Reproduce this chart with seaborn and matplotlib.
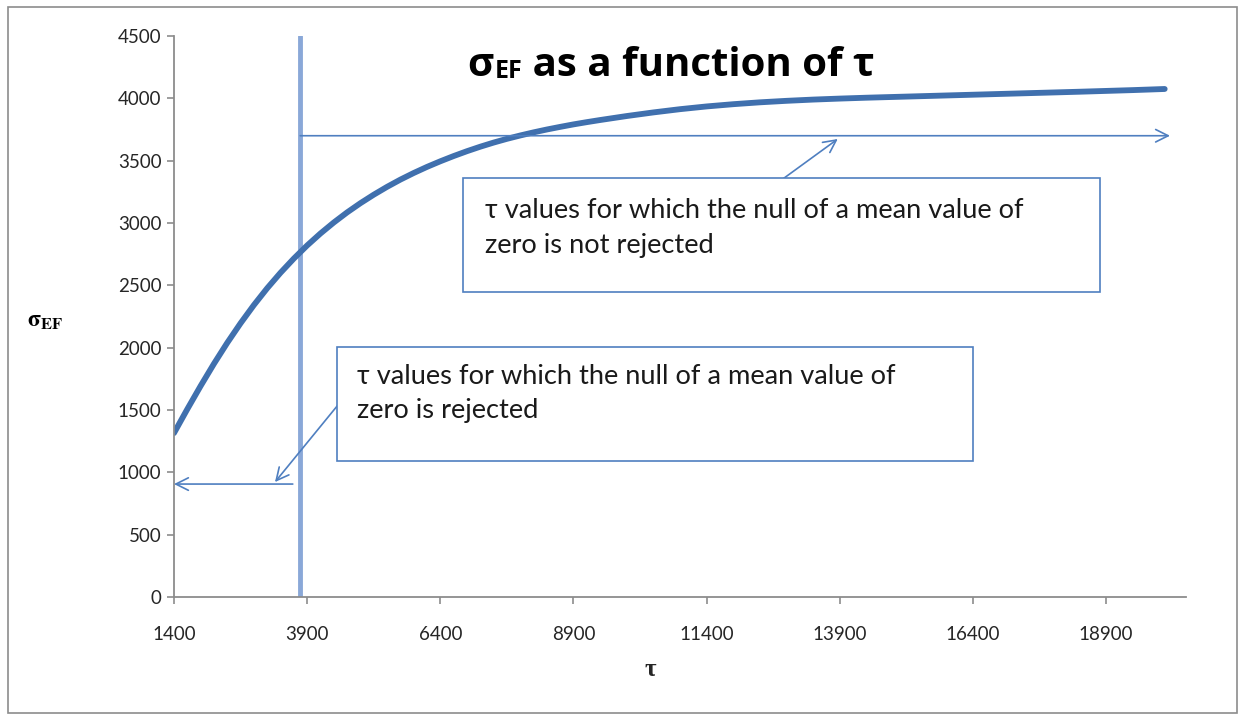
import matplotlib
matplotlib.use("Agg")
import matplotlib.pyplot as plt
import seaborn as sns
import pandas as pd
from matplotlib.patches import Rectangle

# ---- data ----
tau = [1400, 1650, 1900, 2150, 2400, 2650, 2900, 3150, 3400, 3650, 3900, 4150,
       4400, 4650, 4900, 5150, 5400, 5650, 5900, 6150, 6400, 6650, 6900, 7150,
       7400, 7650, 7900, 8150, 8400, 8650, 8900, 9150, 9400, 9900, 10400, 10900,
       11400, 11900, 12400, 12900, 13400, 13900, 14400, 15400, 16400, 17400,
       18400, 19400, 20000]
sigma_ef = [1315, 1507, 1693, 1871, 2039, 2196, 2342, 2477, 2601, 2715, 2820, 2916,
            3004, 3085, 3159, 3227, 3290, 3348, 3401, 3450, 3495, 3537, 3576, 3612,
            3645, 3675, 3702, 3727, 3750, 3771, 3791, 3809, 3826, 3858, 3887, 3913,
            3935, 3953, 3968, 3980, 3990, 3998, 4005, 4017, 4029, 4041,
            4053, 4066, 4075]
x_ticks = [1400, 3900, 6400, 8900, 11400, 13900, 16400, 18900]
y_ticks = [0, 500, 1000, 1500, 2000, 2500, 3000, 3500, 4000, 4500]
tau_threshold = 3770
sigma_level_upper = 3700
sigma_level_lower = 906
lines_not_rejected = ["τ values for which the null of a mean value of", "zero is not rejected"]
lines_rejected = ["τ values for which the null of a mean value of", "zero is rejected"]

df = pd.DataFrame({"tau": tau, "sigma": sigma_ef})

sns.set_style("white")
plt.rcParams["font.family"] = ["Lato", "DejaVu Sans"]

fig = plt.figure(figsize=(12.44, 7.17), dpi=100)
ax = fig.add_axes([174 / 1244, 1 - 597 / 717, (1186 - 174) / 1244, (597 - 36) / 717])

curve_c = "#4070AE"
light_c = "#8AA8D8"
ann_c = "#4F7FC0"

sns.lineplot(data=df, x="tau", y="sigma", ax=ax, color=curve_c, linewidth=4.2)
ax.lines[-1].set_solid_capstyle("round")
ax.lines[-1].set_solid_joinstyle("round")
ax.axvline(tau_threshold, color=light_c, linewidth=3.5, zorder=1)

ax.set_xlim(1400, 20400)
ax.set_ylim(0, 4500)
ax.set_xticks(x_ticks)
ax.set_yticks(y_ticks)
ax.set_xticklabels([str(v) for v in x_ticks])
ax.set_yticklabels([str(v) for v in y_ticks])
ax.set_xlabel("")
ax.set_ylabel("")

for s in ["top", "right"]:
    ax.spines[s].set_visible(False)
for s in ["left", "bottom"]:
    ax.spines[s].set_color("#8C8C8C")
    ax.spines[s].set_linewidth(1.3)
ax.tick_params(axis="both", which="major", direction="out", length=5, width=1.2,
               color="#8C8C8C", labelsize=13.5, labelcolor="#262626")
ax.tick_params(axis="x", pad=16, bottom=True)
ax.tick_params(axis="y", pad=4, left=True)

# arrows
arr = dict(arrowstyle="->,head_length=0.9,head_width=0.45", color=ann_c, lw=1.2,
           shrinkA=0, shrinkB=0)
ax.annotate("", xy=(20100, sigma_level_upper), xytext=(tau_threshold, sigma_level_upper),
            arrowprops=arr)
ax.annotate("", xy=(1400, sigma_level_lower), xytext=(3630, sigma_level_lower),
            arrowprops=arr)
ax.annotate("", xy=(3296, 922), xytext=(4478, 1540), arrowprops=arr)
ax.annotate("", xy=(13862, 3674), xytext=(12830, 3353), arrowprops=arr)

# boxes
ax.add_patch(Rectangle((6824, 2446), 18780 - 6824, 3361 - 2446, fill=True,
                       facecolor="white", edgecolor=ann_c, linewidth=1.2, zorder=3))
ax.add_patch(Rectangle((4459, 1091), 16396 - 4459, 2005 - 1091, fill=True,
                       facecolor="white", edgecolor=ann_c, linewidth=1.2, zorder=3))
for txt, yy in zip(lines_not_rejected, [3104, 2823]):
    ax.text(7237, yy, txt, fontsize=19.6, color="#1a1a1a", va="center", ha="left", zorder=4)
for txt, yy in zip(lines_rejected, [1765, 1492]):
    ax.text(4835, yy, txt, fontsize=19.6, color="#1a1a1a", va="center", ha="left", zorder=4)

# title
t1 = fig.text(467 / 1244, 1 - 76 / 717, "σ", fontsize=29, fontweight="bold",
              family=["Open Sans", "DejaVu Sans"], va="baseline", ha="left", color="black")
t2 = ax.annotate("EF", xy=(1, 0), xycoords=t1, xytext=(1, 1), textcoords="offset points",
                 fontsize=18, fontweight="bold", va="bottom", ha="left", color="black",
                 family=["Open Sans", "DejaVu Sans"], annotation_clip=False)
t3 = ax.annotate(" as a function of τ", xy=(1, 0), xycoords=t2, xytext=(0, -1),
                 textcoords="offset points", fontsize=29, fontweight="bold",
                 family=["Open Sans", "DejaVu Sans"], va="bottom", ha="left",
                 color="black", annotation_clip=False)

# axis labels
fig.text(45 / 1244, 1 - 322 / 717, r"$\mathbf{\sigma_{EF}}$", fontsize=17,
         math_fontfamily="stix", ha="center", va="center", color="black")
fig.text(650 / 1244, 1 - 670 / 717, "τ", fontsize=18, fontweight="bold",
         family=["Liberation Serif", "DejaVu Serif"], ha="center", va="center")

# chart border
fig.patches.append(Rectangle((8 / 1244, 4 / 717), 1229 / 1244, 706 / 717,
                             transform=fig.transFigure, fill=False,
                             edgecolor="#8C8C8C", linewidth=1.2))

fig.savefig("out.png", dpi=100)
